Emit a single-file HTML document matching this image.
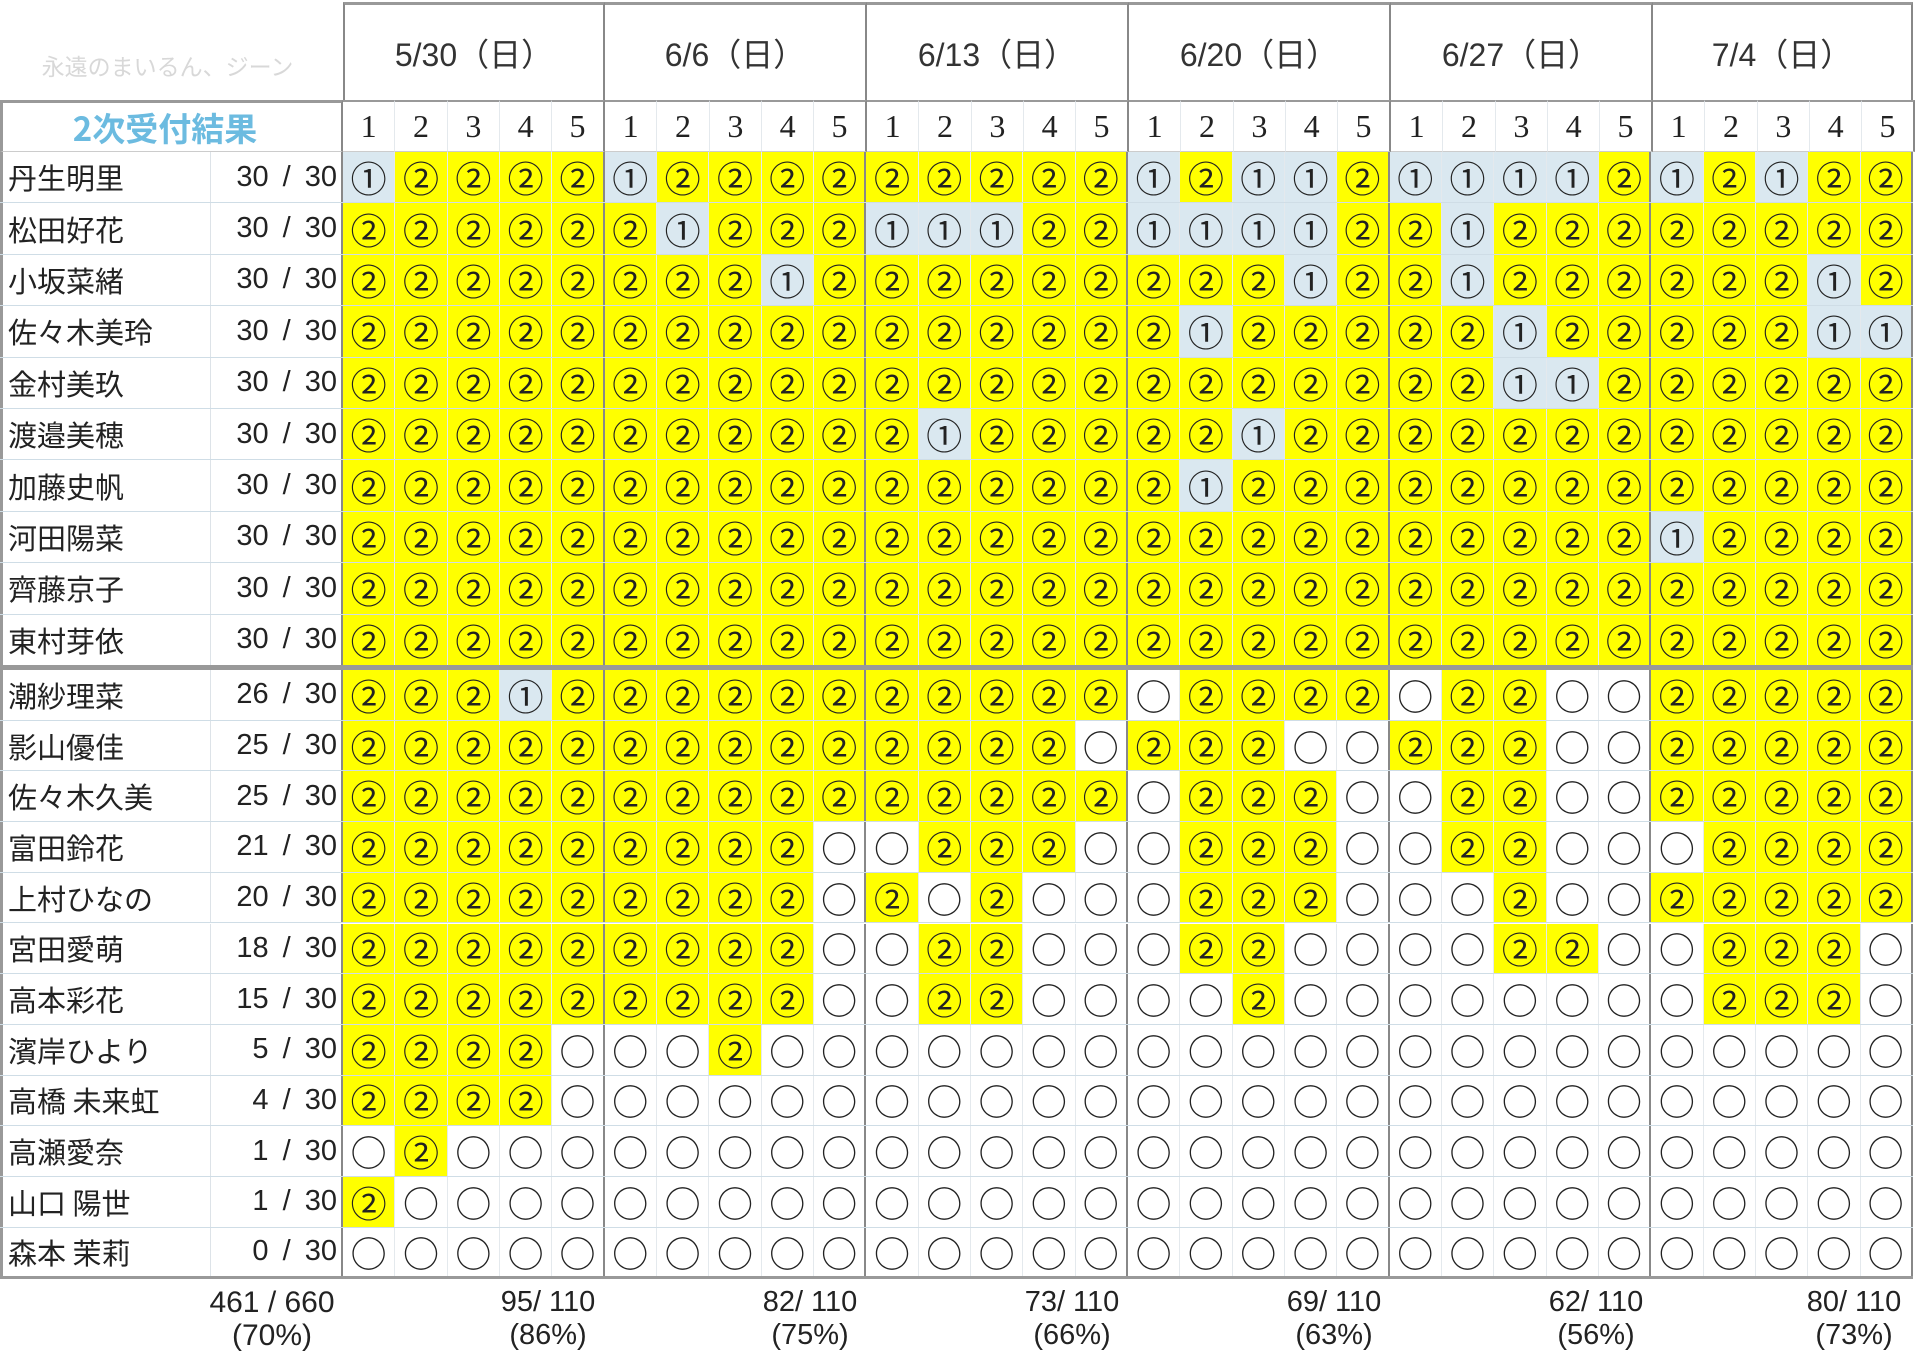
<!DOCTYPE html>
<html><head><meta charset="utf-8"><style>
*{box-sizing:border-box;margin:0;padding:0}
body{width:1920px;height:1357px;background:#fff;position:relative;overflow:hidden;font-family:"Liberation Sans","Noto Sans CJK JP",sans-serif;color:#222}
.a{position:absolute}
.row{position:absolute;left:0;width:1913px;display:flex;border-bottom:1px solid #cfdde6}
.row span.n{width:211px;font-size:29px;padding-left:8px;display:flex;align-items:center;border-right:1px solid #dde3e8;font-family:"Noto Sans CJK JP",sans-serif}
.row span.c{width:132px;font-size:29px;padding-right:4px;display:flex;align-items:center;justify-content:flex-end;white-space:pre;word-spacing:6px;border-right:2px solid #888;font-family:"Liberation Sans","Noto Sans CJK JP",sans-serif}
.row b{width:52.33px;font-weight:normal;display:flex;align-items:center;justify-content:center;font-size:36px;line-height:1;border-right:1px solid #e4e9ed;font-family:"Noto Sans CJK JP",sans-serif;color:#222}
.row b:nth-of-type(5n){border-right:2px solid #888}
.row b.y{background:#ffff00}
.row b.u{background:#dae8f0}
.grp{position:absolute;top:2px;height:98px;width:262px;border-top:3px solid #999;border-right:2px solid #888;display:flex;align-items:center;justify-content:center;font-size:32px;font-family:"Liberation Sans","Noto Sans CJK JP",sans-serif;color:#333}
.sub{position:absolute;top:100px;height:52px;width:52.33px;display:flex;align-items:center;justify-content:center;font-size:32px;font-family:"Liberation Serif",serif;border-right:1px solid #e4e9ed;border-top:2px solid #999;border-bottom:1px solid #ccc}
.ft{position:absolute;top:1286px;width:150px;text-align:center;font-size:29px;line-height:33px;color:#222}
</style></head><body>
<div class="a" style="left:0;top:48px;width:335px;text-align:center;font-size:23px;color:#d8d8d8;font-family:'Noto Sans CJK JP',sans-serif">永遠のまいるん、ジーン</div>
<div class="grp" style="left:343px;border-left:2px solid #888">5/30（日）</div>
<div class="grp" style="left:605px">6/6（日）</div>
<div class="grp" style="left:867px">6/13（日）</div>
<div class="grp" style="left:1129px">6/20（日）</div>
<div class="grp" style="left:1391px">6/27（日）</div>
<div class="grp" style="left:1653px;width:260px">7/4（日）</div>
<div class="a" style="left:0;top:100px;width:343px;height:52px;border-top:3px solid #999;border-left:3px solid #999;border-right:2px solid #888;border-bottom:1px solid #ccc;display:flex;align-items:center;justify-content:center;font-size:33px;font-weight:bold;color:#6cbbe0;font-family:'Noto Sans CJK JP',sans-serif;padding-right:14px">2次受付結果</div>
<div class="sub" style="left:343.0px">1</div><div class="sub" style="left:395.3px">2</div><div class="sub" style="left:447.7px">3</div><div class="sub" style="left:500.0px">4</div><div class="sub" style="left:552.3px;border-right:2px solid #888">5</div>
<div class="sub" style="left:605.0px">1</div><div class="sub" style="left:657.3px">2</div><div class="sub" style="left:709.7px">3</div><div class="sub" style="left:762.0px">4</div><div class="sub" style="left:814.3px;border-right:2px solid #888">5</div>
<div class="sub" style="left:867.0px">1</div><div class="sub" style="left:919.3px">2</div><div class="sub" style="left:971.7px">3</div><div class="sub" style="left:1024.0px">4</div><div class="sub" style="left:1076.3px;border-right:2px solid #888">5</div>
<div class="sub" style="left:1129.0px">1</div><div class="sub" style="left:1181.3px">2</div><div class="sub" style="left:1233.7px">3</div><div class="sub" style="left:1286.0px">4</div><div class="sub" style="left:1338.3px;border-right:2px solid #888">5</div>
<div class="sub" style="left:1391.0px">1</div><div class="sub" style="left:1443.3px">2</div><div class="sub" style="left:1495.7px">3</div><div class="sub" style="left:1548.0px">4</div><div class="sub" style="left:1600.3px;border-right:2px solid #888">5</div>
<div class="sub" style="left:1653.0px">1</div><div class="sub" style="left:1705.3px">2</div><div class="sub" style="left:1757.7px">3</div><div class="sub" style="left:1810.0px">4</div><div class="sub" style="left:1862.3px;border-right:2px solid #888">5</div>

<div class="a" style="left:0;top:152px;width:3px;height:1127px;background:#999"></div>

<div class="row" style="top:152px;height:51.4px"><span class="n">丹生明里</span><span class="c">30 / 30</span><b class="u">①</b><b class="y">②</b><b class="y">②</b><b class="y">②</b><b class="y">②</b><b class="u">①</b><b class="y">②</b><b class="y">②</b><b class="y">②</b><b class="y">②</b><b class="y">②</b><b class="y">②</b><b class="y">②</b><b class="y">②</b><b class="y">②</b><b class="u">①</b><b class="y">②</b><b class="u">①</b><b class="u">①</b><b class="y">②</b><b class="u">①</b><b class="u">①</b><b class="u">①</b><b class="u">①</b><b class="y">②</b><b class="u">①</b><b class="y">②</b><b class="u">①</b><b class="y">②</b><b class="y">②</b></div>
<div class="row" style="top:203.4px;height:51.4px"><span class="n">松田好花</span><span class="c">30 / 30</span><b class="y">②</b><b class="y">②</b><b class="y">②</b><b class="y">②</b><b class="y">②</b><b class="y">②</b><b class="u">①</b><b class="y">②</b><b class="y">②</b><b class="y">②</b><b class="u">①</b><b class="u">①</b><b class="u">①</b><b class="y">②</b><b class="y">②</b><b class="u">①</b><b class="u">①</b><b class="u">①</b><b class="u">①</b><b class="y">②</b><b class="y">②</b><b class="u">①</b><b class="y">②</b><b class="y">②</b><b class="y">②</b><b class="y">②</b><b class="y">②</b><b class="y">②</b><b class="y">②</b><b class="y">②</b></div>
<div class="row" style="top:254.8px;height:51.4px"><span class="n">小坂菜緒</span><span class="c">30 / 30</span><b class="y">②</b><b class="y">②</b><b class="y">②</b><b class="y">②</b><b class="y">②</b><b class="y">②</b><b class="y">②</b><b class="y">②</b><b class="u">①</b><b class="y">②</b><b class="y">②</b><b class="y">②</b><b class="y">②</b><b class="y">②</b><b class="y">②</b><b class="y">②</b><b class="y">②</b><b class="y">②</b><b class="u">①</b><b class="y">②</b><b class="y">②</b><b class="u">①</b><b class="y">②</b><b class="y">②</b><b class="y">②</b><b class="y">②</b><b class="y">②</b><b class="y">②</b><b class="u">①</b><b class="y">②</b></div>
<div class="row" style="top:306.2px;height:51.4px"><span class="n">佐々木美玲</span><span class="c">30 / 30</span><b class="y">②</b><b class="y">②</b><b class="y">②</b><b class="y">②</b><b class="y">②</b><b class="y">②</b><b class="y">②</b><b class="y">②</b><b class="y">②</b><b class="y">②</b><b class="y">②</b><b class="y">②</b><b class="y">②</b><b class="y">②</b><b class="y">②</b><b class="y">②</b><b class="u">①</b><b class="y">②</b><b class="y">②</b><b class="y">②</b><b class="y">②</b><b class="y">②</b><b class="u">①</b><b class="y">②</b><b class="y">②</b><b class="y">②</b><b class="y">②</b><b class="y">②</b><b class="u">①</b><b class="u">①</b></div>
<div class="row" style="top:357.6px;height:51.4px"><span class="n">金村美玖</span><span class="c">30 / 30</span><b class="y">②</b><b class="y">②</b><b class="y">②</b><b class="y">②</b><b class="y">②</b><b class="y">②</b><b class="y">②</b><b class="y">②</b><b class="y">②</b><b class="y">②</b><b class="y">②</b><b class="y">②</b><b class="y">②</b><b class="y">②</b><b class="y">②</b><b class="y">②</b><b class="y">②</b><b class="y">②</b><b class="y">②</b><b class="y">②</b><b class="y">②</b><b class="y">②</b><b class="u">①</b><b class="u">①</b><b class="y">②</b><b class="y">②</b><b class="y">②</b><b class="y">②</b><b class="y">②</b><b class="y">②</b></div>
<div class="row" style="top:409px;height:51.4px"><span class="n">渡邉美穂</span><span class="c">30 / 30</span><b class="y">②</b><b class="y">②</b><b class="y">②</b><b class="y">②</b><b class="y">②</b><b class="y">②</b><b class="y">②</b><b class="y">②</b><b class="y">②</b><b class="y">②</b><b class="y">②</b><b class="u">①</b><b class="y">②</b><b class="y">②</b><b class="y">②</b><b class="y">②</b><b class="y">②</b><b class="u">①</b><b class="y">②</b><b class="y">②</b><b class="y">②</b><b class="y">②</b><b class="y">②</b><b class="y">②</b><b class="y">②</b><b class="y">②</b><b class="y">②</b><b class="y">②</b><b class="y">②</b><b class="y">②</b></div>
<div class="row" style="top:460.4px;height:51.4px"><span class="n">加藤史帆</span><span class="c">30 / 30</span><b class="y">②</b><b class="y">②</b><b class="y">②</b><b class="y">②</b><b class="y">②</b><b class="y">②</b><b class="y">②</b><b class="y">②</b><b class="y">②</b><b class="y">②</b><b class="y">②</b><b class="y">②</b><b class="y">②</b><b class="y">②</b><b class="y">②</b><b class="y">②</b><b class="u">①</b><b class="y">②</b><b class="y">②</b><b class="y">②</b><b class="y">②</b><b class="y">②</b><b class="y">②</b><b class="y">②</b><b class="y">②</b><b class="y">②</b><b class="y">②</b><b class="y">②</b><b class="y">②</b><b class="y">②</b></div>
<div class="row" style="top:511.8px;height:51.4px"><span class="n">河田陽菜</span><span class="c">30 / 30</span><b class="y">②</b><b class="y">②</b><b class="y">②</b><b class="y">②</b><b class="y">②</b><b class="y">②</b><b class="y">②</b><b class="y">②</b><b class="y">②</b><b class="y">②</b><b class="y">②</b><b class="y">②</b><b class="y">②</b><b class="y">②</b><b class="y">②</b><b class="y">②</b><b class="y">②</b><b class="y">②</b><b class="y">②</b><b class="y">②</b><b class="y">②</b><b class="y">②</b><b class="y">②</b><b class="y">②</b><b class="y">②</b><b class="u">①</b><b class="y">②</b><b class="y">②</b><b class="y">②</b><b class="y">②</b></div>
<div class="row" style="top:563.2px;height:51.4px"><span class="n">齊藤京子</span><span class="c">30 / 30</span><b class="y">②</b><b class="y">②</b><b class="y">②</b><b class="y">②</b><b class="y">②</b><b class="y">②</b><b class="y">②</b><b class="y">②</b><b class="y">②</b><b class="y">②</b><b class="y">②</b><b class="y">②</b><b class="y">②</b><b class="y">②</b><b class="y">②</b><b class="y">②</b><b class="y">②</b><b class="y">②</b><b class="y">②</b><b class="y">②</b><b class="y">②</b><b class="y">②</b><b class="y">②</b><b class="y">②</b><b class="y">②</b><b class="y">②</b><b class="y">②</b><b class="y">②</b><b class="y">②</b><b class="y">②</b></div>
<div class="row" style="top:614.6px;height:51.4px"><span class="n">東村芽依</span><span class="c">30 / 30</span><b class="y">②</b><b class="y">②</b><b class="y">②</b><b class="y">②</b><b class="y">②</b><b class="y">②</b><b class="y">②</b><b class="y">②</b><b class="y">②</b><b class="y">②</b><b class="y">②</b><b class="y">②</b><b class="y">②</b><b class="y">②</b><b class="y">②</b><b class="y">②</b><b class="y">②</b><b class="y">②</b><b class="y">②</b><b class="y">②</b><b class="y">②</b><b class="y">②</b><b class="y">②</b><b class="y">②</b><b class="y">②</b><b class="y">②</b><b class="y">②</b><b class="y">②</b><b class="y">②</b><b class="y">②</b></div>
<div class="a" style="left:0;top:665px;width:1913px;height:5px;background:#999"></div>
<div class="row" style="top:670px;height:50.7px"><span class="n">潮紗理菜</span><span class="c">26 / 30</span><b class="y">②</b><b class="y">②</b><b class="y">②</b><b class="u">①</b><b class="y">②</b><b class="y">②</b><b class="y">②</b><b class="y">②</b><b class="y">②</b><b class="y">②</b><b class="y">②</b><b class="y">②</b><b class="y">②</b><b class="y">②</b><b class="y">②</b><b>○</b><b class="y">②</b><b class="y">②</b><b class="y">②</b><b class="y">②</b><b>○</b><b class="y">②</b><b class="y">②</b><b>○</b><b>○</b><b class="y">②</b><b class="y">②</b><b class="y">②</b><b class="y">②</b><b class="y">②</b></div>
<div class="row" style="top:720.7px;height:50.7px"><span class="n">影山優佳</span><span class="c">25 / 30</span><b class="y">②</b><b class="y">②</b><b class="y">②</b><b class="y">②</b><b class="y">②</b><b class="y">②</b><b class="y">②</b><b class="y">②</b><b class="y">②</b><b class="y">②</b><b class="y">②</b><b class="y">②</b><b class="y">②</b><b class="y">②</b><b>○</b><b class="y">②</b><b class="y">②</b><b class="y">②</b><b>○</b><b>○</b><b class="y">②</b><b class="y">②</b><b class="y">②</b><b>○</b><b>○</b><b class="y">②</b><b class="y">②</b><b class="y">②</b><b class="y">②</b><b class="y">②</b></div>
<div class="row" style="top:771.4px;height:50.7px"><span class="n">佐々木久美</span><span class="c">25 / 30</span><b class="y">②</b><b class="y">②</b><b class="y">②</b><b class="y">②</b><b class="y">②</b><b class="y">②</b><b class="y">②</b><b class="y">②</b><b class="y">②</b><b class="y">②</b><b class="y">②</b><b class="y">②</b><b class="y">②</b><b class="y">②</b><b class="y">②</b><b>○</b><b class="y">②</b><b class="y">②</b><b class="y">②</b><b>○</b><b>○</b><b class="y">②</b><b class="y">②</b><b>○</b><b>○</b><b class="y">②</b><b class="y">②</b><b class="y">②</b><b class="y">②</b><b class="y">②</b></div>
<div class="row" style="top:822.1px;height:50.7px"><span class="n">富田鈴花</span><span class="c">21 / 30</span><b class="y">②</b><b class="y">②</b><b class="y">②</b><b class="y">②</b><b class="y">②</b><b class="y">②</b><b class="y">②</b><b class="y">②</b><b class="y">②</b><b>○</b><b>○</b><b class="y">②</b><b class="y">②</b><b class="y">②</b><b>○</b><b>○</b><b class="y">②</b><b class="y">②</b><b class="y">②</b><b>○</b><b>○</b><b class="y">②</b><b class="y">②</b><b>○</b><b>○</b><b>○</b><b class="y">②</b><b class="y">②</b><b class="y">②</b><b class="y">②</b></div>
<div class="row" style="top:872.8px;height:50.7px"><span class="n">上村ひなの</span><span class="c">20 / 30</span><b class="y">②</b><b class="y">②</b><b class="y">②</b><b class="y">②</b><b class="y">②</b><b class="y">②</b><b class="y">②</b><b class="y">②</b><b class="y">②</b><b>○</b><b class="y">②</b><b>○</b><b class="y">②</b><b>○</b><b>○</b><b>○</b><b class="y">②</b><b class="y">②</b><b class="y">②</b><b>○</b><b>○</b><b>○</b><b class="y">②</b><b>○</b><b>○</b><b class="y">②</b><b class="y">②</b><b class="y">②</b><b class="y">②</b><b class="y">②</b></div>
<div class="row" style="top:923.5px;height:50.7px"><span class="n">宮田愛萌</span><span class="c">18 / 30</span><b class="y">②</b><b class="y">②</b><b class="y">②</b><b class="y">②</b><b class="y">②</b><b class="y">②</b><b class="y">②</b><b class="y">②</b><b class="y">②</b><b>○</b><b>○</b><b class="y">②</b><b class="y">②</b><b>○</b><b>○</b><b>○</b><b class="y">②</b><b class="y">②</b><b>○</b><b>○</b><b>○</b><b>○</b><b class="y">②</b><b class="y">②</b><b>○</b><b>○</b><b class="y">②</b><b class="y">②</b><b class="y">②</b><b>○</b></div>
<div class="row" style="top:974.2px;height:50.7px"><span class="n">高本彩花</span><span class="c">15 / 30</span><b class="y">②</b><b class="y">②</b><b class="y">②</b><b class="y">②</b><b class="y">②</b><b class="y">②</b><b class="y">②</b><b class="y">②</b><b class="y">②</b><b>○</b><b>○</b><b class="y">②</b><b class="y">②</b><b>○</b><b>○</b><b>○</b><b>○</b><b class="y">②</b><b>○</b><b>○</b><b>○</b><b>○</b><b>○</b><b>○</b><b>○</b><b>○</b><b class="y">②</b><b class="y">②</b><b class="y">②</b><b>○</b></div>
<div class="row" style="top:1024.9px;height:50.7px"><span class="n">濱岸ひより</span><span class="c"> 5 / 30</span><b class="y">②</b><b class="y">②</b><b class="y">②</b><b class="y">②</b><b>○</b><b>○</b><b>○</b><b class="y">②</b><b>○</b><b>○</b><b>○</b><b>○</b><b>○</b><b>○</b><b>○</b><b>○</b><b>○</b><b>○</b><b>○</b><b>○</b><b>○</b><b>○</b><b>○</b><b>○</b><b>○</b><b>○</b><b>○</b><b>○</b><b>○</b><b>○</b></div>
<div class="row" style="top:1075.6px;height:50.7px"><span class="n">高橋 未来虹</span><span class="c"> 4 / 30</span><b class="y">②</b><b class="y">②</b><b class="y">②</b><b class="y">②</b><b>○</b><b>○</b><b>○</b><b>○</b><b>○</b><b>○</b><b>○</b><b>○</b><b>○</b><b>○</b><b>○</b><b>○</b><b>○</b><b>○</b><b>○</b><b>○</b><b>○</b><b>○</b><b>○</b><b>○</b><b>○</b><b>○</b><b>○</b><b>○</b><b>○</b><b>○</b></div>
<div class="row" style="top:1126.3px;height:50.7px"><span class="n">高瀬愛奈</span><span class="c"> 1 / 30</span><b>○</b><b class="y">②</b><b>○</b><b>○</b><b>○</b><b>○</b><b>○</b><b>○</b><b>○</b><b>○</b><b>○</b><b>○</b><b>○</b><b>○</b><b>○</b><b>○</b><b>○</b><b>○</b><b>○</b><b>○</b><b>○</b><b>○</b><b>○</b><b>○</b><b>○</b><b>○</b><b>○</b><b>○</b><b>○</b><b>○</b></div>
<div class="row" style="top:1177px;height:50.7px"><span class="n">山口 陽世</span><span class="c"> 1 / 30</span><b class="y">②</b><b>○</b><b>○</b><b>○</b><b>○</b><b>○</b><b>○</b><b>○</b><b>○</b><b>○</b><b>○</b><b>○</b><b>○</b><b>○</b><b>○</b><b>○</b><b>○</b><b>○</b><b>○</b><b>○</b><b>○</b><b>○</b><b>○</b><b>○</b><b>○</b><b>○</b><b>○</b><b>○</b><b>○</b><b>○</b></div>
<div class="row" style="top:1227.7px;height:51px;border-bottom:3px solid #999"><span class="n">森本 茉莉</span><span class="c"> 0 / 30</span><b>○</b><b>○</b><b>○</b><b>○</b><b>○</b><b>○</b><b>○</b><b>○</b><b>○</b><b>○</b><b>○</b><b>○</b><b>○</b><b>○</b><b>○</b><b>○</b><b>○</b><b>○</b><b>○</b><b>○</b><b>○</b><b>○</b><b>○</b><b>○</b><b>○</b><b>○</b><b>○</b><b>○</b><b>○</b><b>○</b></div>

<div class="ft" style="left:197px;font-size:30px">461 / 660<br>(70%)</div>
<div class="ft" style="left:478px;width:140px">95/ 110<br>(86%)</div>
<div class="ft" style="left:740px;width:140px">82/ 110<br>(75%)</div>
<div class="ft" style="left:1002px;width:140px">73/ 110<br>(66%)</div>
<div class="ft" style="left:1264px;width:140px">69/ 110<br>(63%)</div>
<div class="ft" style="left:1526px;width:140px">62/ 110<br>(56%)</div>
<div class="ft" style="left:1784px;width:140px">80/ 110<br>(73%)</div>
</body></html>
